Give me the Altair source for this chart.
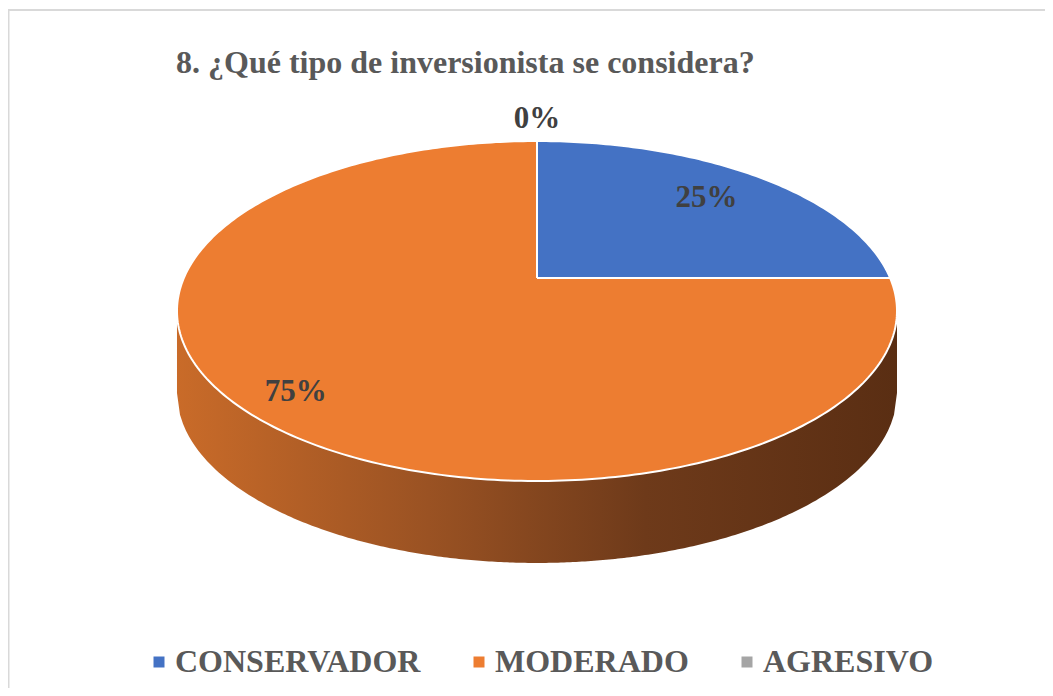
import numpy as np
import pandas as pd
import altair as alt

# ---- data ----
categories = ["CONSERVADOR", "MODERADO", "AGRESIVO"]
percentages = [25, 75, 0]
colors = ["#4472C4", "#ED7D31", "#A5A5A5"]
title_text = "8. ¿Qué tipo de inversionista se considera?"

# ---- 3-D pie geometry (normalised ellipse units; scales turn it into pixels) ----
APEX_V = 0.194     # perspective offset of the pie centre above the ellipse centre
DEPTH = 0.482      # thickness of the pie wall


def rim(theta):
    """Point on the top-face ellipse reached from the apex at pie angle theta."""
    sx, cy = np.sin(theta), np.cos(theta)
    ad = APEX_V * cy
    t = -ad + np.sqrt(ad * ad - APEX_V ** 2 + 1.0)
    return t, sx, cy


poly_rows = []
label_rows = []
cum = 0.0
for cat, p in zip(categories, percentages):
    th0 = cum / 100.0 * 2 * np.pi
    th1 = (cum + p) / 100.0 * 2 * np.pi
    cum += p
    if p > 0:
        n = max(4, int(p * 4))
        i = 0
        poly_rows.append({"category": cat, "i": i, "u": 0.0, "v": APEX_V})
        for th in np.linspace(th0, th1, n):
            i += 1
            t, sx, cy = rim(th)
            poly_rows.append({"category": cat, "i": i, "u": t * sx, "v": APEX_V + t * cy})
        poly_rows.append({"category": cat, "i": i + 1, "u": 0.0, "v": APEX_V})
    mid = (th0 + th1) / 2
    t, sx, cy = rim(mid)
    ratio = (0.78 if p < 50 else 0.84) if p > 0 else 1.16
    label_rows.append({"category": cat, "label": f"{p}%",
                       "u": ratio * t * sx, "v": APEX_V + ratio * t * cy})

polys = pd.DataFrame(poly_rows)
labels = pd.DataFrame(label_rows)

uu = np.linspace(-1, 1, 241)
top_edge = -np.sqrt(np.clip(1 - uu ** 2, 0, None))
wall = pd.DataFrame({"u": uu, "top": top_edge, "bottom": top_edge - DEPTH})

W, H = 1037, 680
xs = alt.Scale(domain=[-1.4694, 1.4111], nice=False, zero=False)
ys = alt.Scale(domain=[-2.2176, 1.7824], nice=False, zero=False)
X = lambda: alt.X("u:Q", scale=xs, axis=None)

wall_layer = alt.Chart(wall).mark_area(
    color=alt.Gradient(
        gradient="linear",
        stops=[alt.GradientStop(color="#C96B29", offset=0),
               alt.GradientStop(color="#9A5223", offset=0.35),
               alt.GradientStop(color="#6E3A1A", offset=0.65),
               alt.GradientStop(color="#5A2E13", offset=1)],
        x1=0, x2=1, y1=0, y2=0),
).encode(
    x=X(),
    y=alt.Y("top:Q", scale=ys, axis=None),
    y2="bottom:Q",
)

top_layer = alt.Chart(polys).mark_line(
    filled=True, stroke="white", strokeWidth=2, strokeJoin="round"
).encode(
    x=X(),
    y=alt.Y("v:Q", scale=ys, axis=None),
    order="i:Q",
    detail="category:N",
    color=alt.Color(
        "category:N",
        scale=alt.Scale(domain=categories, range=colors),
        legend=alt.Legend(
            orient="none", legendX=135, legendY=638, direction="horizontal",
            title=None, symbolType="square", symbolSize=121, symbolStrokeWidth=0,
            labelFont="Liberation Serif", labelFontSize=32, labelFontWeight="bold",
            labelColor="#595959", labelOffset=0, columnPadding=42, labelLimit=500,
        ),
    ),
)

text_layer = alt.Chart(labels).mark_text(
    font="Liberation Serif", fontSize=31, fontWeight="bold", color="#404040",
    align="center", baseline="middle",
).encode(
    x=X(),
    y=alt.Y("v:Q", scale=ys, axis=None),
    text="label:N",
)

frame = alt.Data(values=[{}])
left_rule = alt.Chart(frame).mark_rule(color="#D9D9D9", strokeWidth=2).encode(
    x=alt.value(0.5), y=alt.value(2), y2=alt.value(H))
top_rule = alt.Chart(frame).mark_rule(color="#D9D9D9", strokeWidth=2).encode(
    x=alt.value(0), x2=alt.value(W), y=alt.value(2))

chart = alt.layer(
    wall_layer, top_layer, text_layer, left_rule, top_rule
).properties(
    width=W, height=H, padding=0,
    autosize=alt.AutoSizeParams(type="none"),
    title=alt.TitleParams(
        text=title_text, font="Liberation Serif", fontSize=32, fontWeight="bold",
        color="#595959", anchor="start", dx=169, dy=97, offset=0,
        baseline="alphabetic",
    ),
).configure_view(stroke=None)

chart.save("out.html", embed_options={"renderer": "svg", "actions": False})
